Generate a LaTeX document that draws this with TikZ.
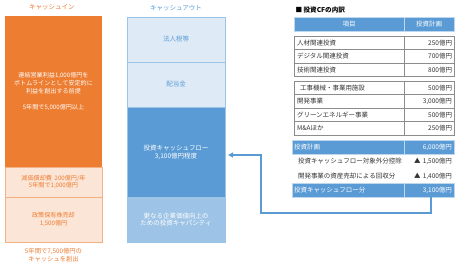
\documentclass[tikz,border=0pt]{standalone}
\usepackage{fontspec}
\newfontfamily\jpfont{Noto Sans CJK JP}
\usetikzlibrary{arrows.meta,positioning}
\definecolor{cinorange}{HTML}{ED7D31}
\definecolor{cinpeach}{HTML}{FBE5D6}
\definecolor{cinedge}{HTML}{F4B183}
\definecolor{coutlight}{HTML}{DEEBF7}
\definecolor{coutblue}{HTML}{5B9BD5}
\definecolor{coutmid}{HTML}{9DC3E6}
\definecolor{tblgray}{HTML}{8C8C8C}
\definecolor{tbltext}{HTML}{333333}

\begin{document}
\begin{tikzpicture}[x=1pt, y=-1pt, >=Stealth,
  font=\jpfont\fontsize{6.5}{7.8}\selectfont,
  inbox/.style={minimum width=97pt, inner sep=0pt, outer sep=0pt, align=center,
    font=\jpfont\fontsize{6.1}{7.8}\selectfont},
  outbox/.style={minimum width=98pt, inner sep=0pt, outer sep=0pt, align=center, draw=coutmid},
  itemcell/.style={draw=tblgray, text=tbltext, anchor=north west, minimum height=13.5pt,
    text width=104pt, inner xsep=3pt, inner ysep=0pt, outer sep=0pt, align=left},
  valcell/.style={draw=tblgray, text=tbltext, minimum height=13.5pt,
    text width=46pt, inner xsep=2pt, inner ysep=0pt, outer sep=0pt, align=right},
  headcell/.style={fill=coutblue, draw=white!60!coutblue, text=white, anchor=north west,
    minimum height=14pt, inner sep=0pt, outer sep=0pt},
  bandcell/.style={fill=coutblue, draw=white!60!coutblue, text=white, anchor=north west,
    minimum height=13.5pt, text width=108pt, inner xsep=2pt, inner ysep=0pt, outer sep=0pt, align=left},
  bandval/.style={fill=coutblue, draw=white!60!coutblue, text=white, minimum height=13.5pt,
    text width=46pt, inner xsep=2pt, inner ysep=0pt, outer sep=0pt, align=right},
  subcell/.style={text=tbltext, anchor=north west, minimum height=14.75pt,
    text width=100pt, inner xsep=6pt, inner ysep=0pt, outer sep=0pt, align=left},
  subval/.style={text=tbltext, minimum height=14.75pt,
    text width=46pt, inner xsep=2pt, inner ysep=0pt, outer sep=0pt, align=right},
  flow/.style={draw=coutblue, line width=1.2pt, -{Triangle[length=5pt,width=5pt]}}]
  \useasboundingbox (0,0) rectangle (459,267);
  % Cash in
  \node[text=cinorange] (intitle) at (52,7) {キャッシュイン};
  \node[inbox, anchor=north west, fill=cinorange, text=white, minimum height=151pt] (opcf) at (5,16)
    {連結営業利益1,000億円を\\ボトムラインとして安定的に\\利益を創出する前提\\[7.8pt]5年間で5,000億円以上};
  \node[inbox, fill=cinpeach, draw=cinedge, text=cinorange, minimum height=30pt, below=0pt of opcf] (depr)
    {減価償却費\ \ 200億円/年\\5年間で1,000億円};
  \node[inbox, fill=cinpeach, draw=cinedge, text=cinorange, minimum height=45pt, below=0pt of depr] (shares)
    {政策保有株売却\\1,500億円};
  \node[text=cinorange, align=center, font=\jpfont\fontsize{6.3}{7.2}\selectfont, below=3pt of shares] (intotal)
    {5年間で7,500億円の\\キャッシュを創出};
  % Cash out
  \node[text=coutblue] (outtitle) at (176,8) {キャッシュアウト};
  \node[outbox, anchor=north west, fill=coutlight, text=coutblue, minimum height=45pt] (tax) at (127,17) {法人税等};
  \node[outbox, fill=coutlight, text=coutblue, minimum height=45pt, below=0pt of tax] (div) {配当金};
  \node[outbox, fill=coutblue, text=white, minimum height=90pt, below=0pt of div] (icf)
    {投資キャッシュフロー\\3,100億円程度};
  \node[outbox, fill=coutmid, text=white, minimum height=45pt, below=0pt of icf] (cap)
    {更なる企業価値向上の\\ための投資キャパシティ};
  % Breakdown table
  \node[anchor=west, text=black, font=\jpfont\fontsize{6.6}{7.8}\selectfont\bfseries] (cftitle) at (292,10) {■ 投資CFの内訳};
  \node[headcell, minimum width=110pt] (hitem) at (294,17) {項目};
  \node[headcell, minimum width=50pt, anchor=west, right=0pt of hitem] (hplan) {投資計画};
  \foreach \item/\val [count=\i] in {人材関連投資/250億円, デジタル関連投資/700億円, 技術関連投資/800億円} {
    \node[itemcell] (a\i) at (294,{36+13.5*(\i-1)}) {\item};
    \node[valcell, right=0pt of a\i] (av\i) {\val};
  }
  \foreach \item/\val [count=\i] in {\hspace{3pt}工事機械・事業用施設/500億円, 開発事業/{3,000億円}, グリーンエネルギー事業/500億円, M\&Aほか/250億円} {
    \node[itemcell] (b\i) at (294,{81+13.5*(\i-1)}) {\item};
    \node[valcell, right=0pt of b\i] (bv\i) {\val};
  }
  \node[bandcell] (plan) at (292,140.5) {投資計画};
  \node[bandval, right=0pt of plan] (planv) {6,000億円};
  \node[subcell] (excl) at (292,154) {投資キャッシュフロー対象外分控除};
  \node[subval, right=0pt of excl] (exclv) {▲ 1,500億円};
  \node[subcell] (sale) at (292,168.75) {開発事業の資産売却による回収分};
  \node[subval, right=0pt of sale] (salev) {▲ 1,400億円};
  \node[bandcell] (cf) at (292,183.5) {投資キャッシュフロー分};
  \node[bandval, right=0pt of cf] (cfv) {3,100億円};
  % Connector
  \coordinate (bend) at (261,213);
  \draw[flow] ([xshift=2pt]cfv.south) |- (bend) |- ([xshift=3pt,yshift=-3pt]icf.east);
\end{tikzpicture}
\end{document}
